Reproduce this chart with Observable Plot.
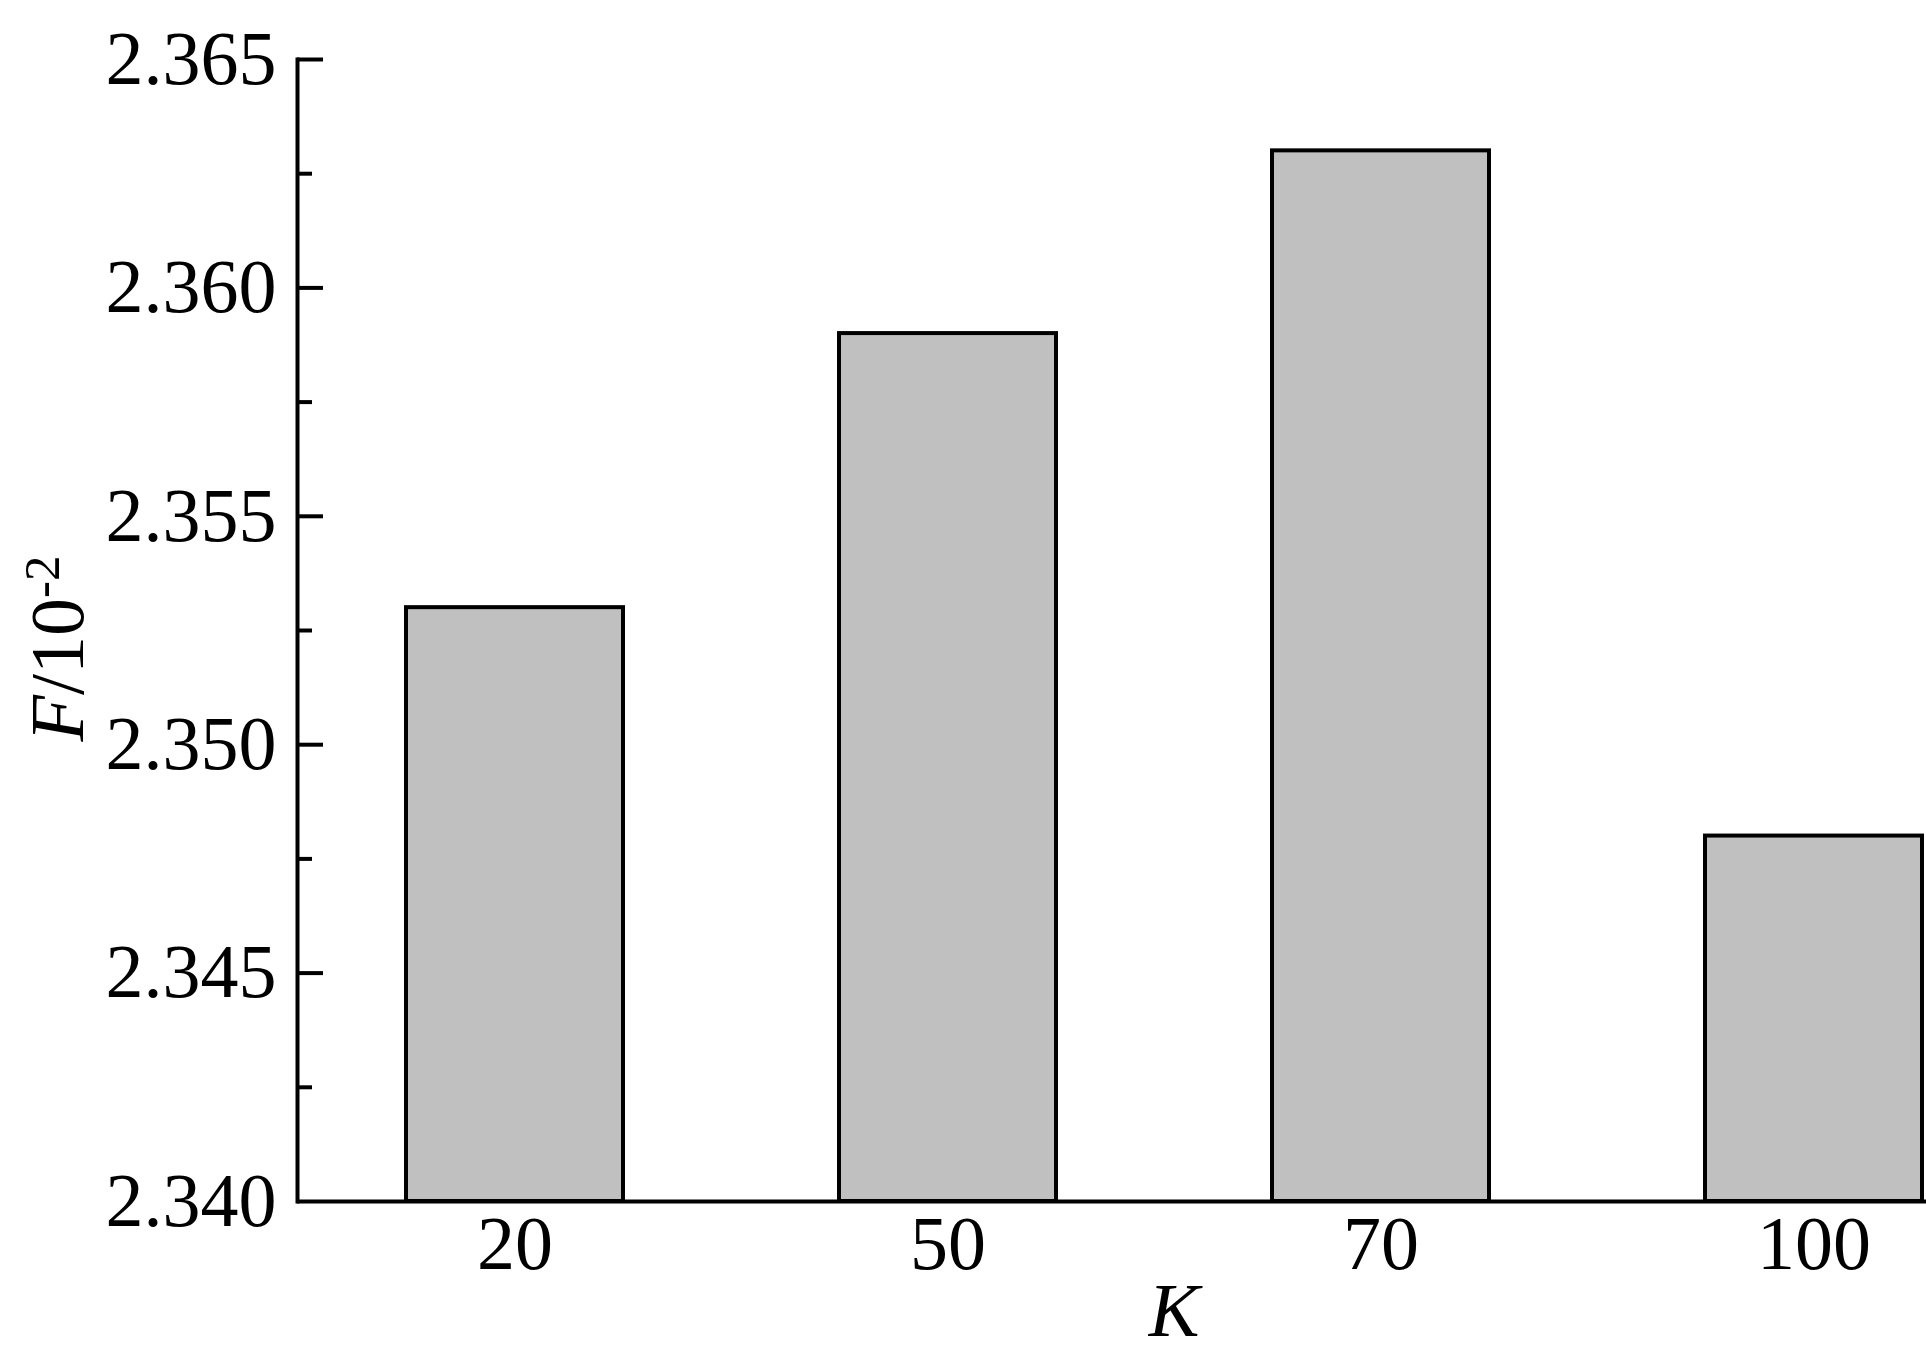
<!DOCTYPE html>
<html><head><meta charset="utf-8">
<script src="https://cdn.jsdelivr.net/npm/d3@7"></script>
<script src="https://cdn.jsdelivr.net/npm/@observablehq/plot@0.6"></script>
<style>body{margin:0;background:#fff} svg{display:block} svg text{font-family:"Liberation Serif"}</style>
</head><body><div id="chart"></div>
<script>
const categories = ["20", "50", "70", "100"];
const values = [2.353, 2.359, 2.363, 2.348];
const yTicks = [2.340, 2.345, 2.350, 2.355, 2.360, 2.365];
const yMinorTicks = [2.3425, 2.3475, 2.3525, 2.3575, 2.3625];
const xLabel = "K";
const yLabel = "F/10-2";

const data = categories.map((k, i) => ({K: k, F: values[i]}));
const font = "Liberation Serif";

const chart = Plot.plot({
  width: 1926, height: 1361,
  marginLeft: 297, marginRight: 0, marginTop: 59, marginBottom: 160,
  style: {fontFamily: font, fontSize: "76px", background: "white", color: "black", overflow: "visible"},
  x: {domain: categories, range: [297, 2031], paddingInner: 0.5, paddingOuter: 0.25},
  y: {domain: [yTicks[0], yTicks[yTicks.length - 1]]},
  marks: [
    Plot.barY(data, {x: "K", y1: () => yTicks[0], y2: "F", fill: "#c0c0c0", stroke: "black", strokeWidth: 4}),
    Plot.axisX({anchor: "bottom", tickSize: 0, tickPadding: 14, label: null, fontSize: 76, fontFamily: font}),
    Plot.axisY(yTicks, {anchor: "left", tickSize: 0, tickPadding: 21, tickFormat: d3.format(".3f"), label: null, fontSize: 76, fontFamily: font}),
    Plot.axisY(yTicks.slice(1), {anchor: "left", tickSize: 26, dx: 26, fill: "none", label: null, strokeWidth: 4}),
    Plot.axisY(yMinorTicks, {anchor: "left", tickSize: 15, dx: 15, fill: "none", label: null, strokeWidth: 4}),
    Plot.ruleY([yTicks[0]], {strokeWidth: 4}),
    Plot.frame({anchor: "left", strokeWidth: 4}),
    Plot.text([xLabel], {text: d => d, frameAnchor: "bottom", lineAnchor: "middle", textAnchor: "middle", dx: 62, dy: 110, fontStyle: "italic", fontSize: 76, fontFamily: font}),
    Plot.text([yLabel], {text: d => d, frameAnchor: "left", lineAnchor: "middle", textAnchor: "middle", rotate: -90, dx: -239, dy: 18, fontSize: 76, fontFamily: font})
  ]
});
chart.style.fontFamily = font;
document.getElementById("chart").appendChild(chart);

// Render the y label with an italic F and a superscript exponent
chart.querySelectorAll("text").forEach(t => {
  t.setAttribute("font-family", font);
  if (t.textContent === yLabel) {
    const ns = "http://www.w3.org/2000/svg";
    t.textContent = "";
    const a = document.createElementNS(ns, "tspan");
    a.setAttribute("font-style", "italic");
    a.textContent = yLabel.slice(0, 1);
    const b = document.createElementNS(ns, "tspan");
    b.textContent = yLabel.slice(1, 4);
    const c = document.createElementNS(ns, "tspan");
    c.setAttribute("font-size", "51");
    c.setAttribute("dy", "-24");
    c.textContent = yLabel.slice(4);
    t.append(a, b, c);
  }
});
</script>
</body></html>
